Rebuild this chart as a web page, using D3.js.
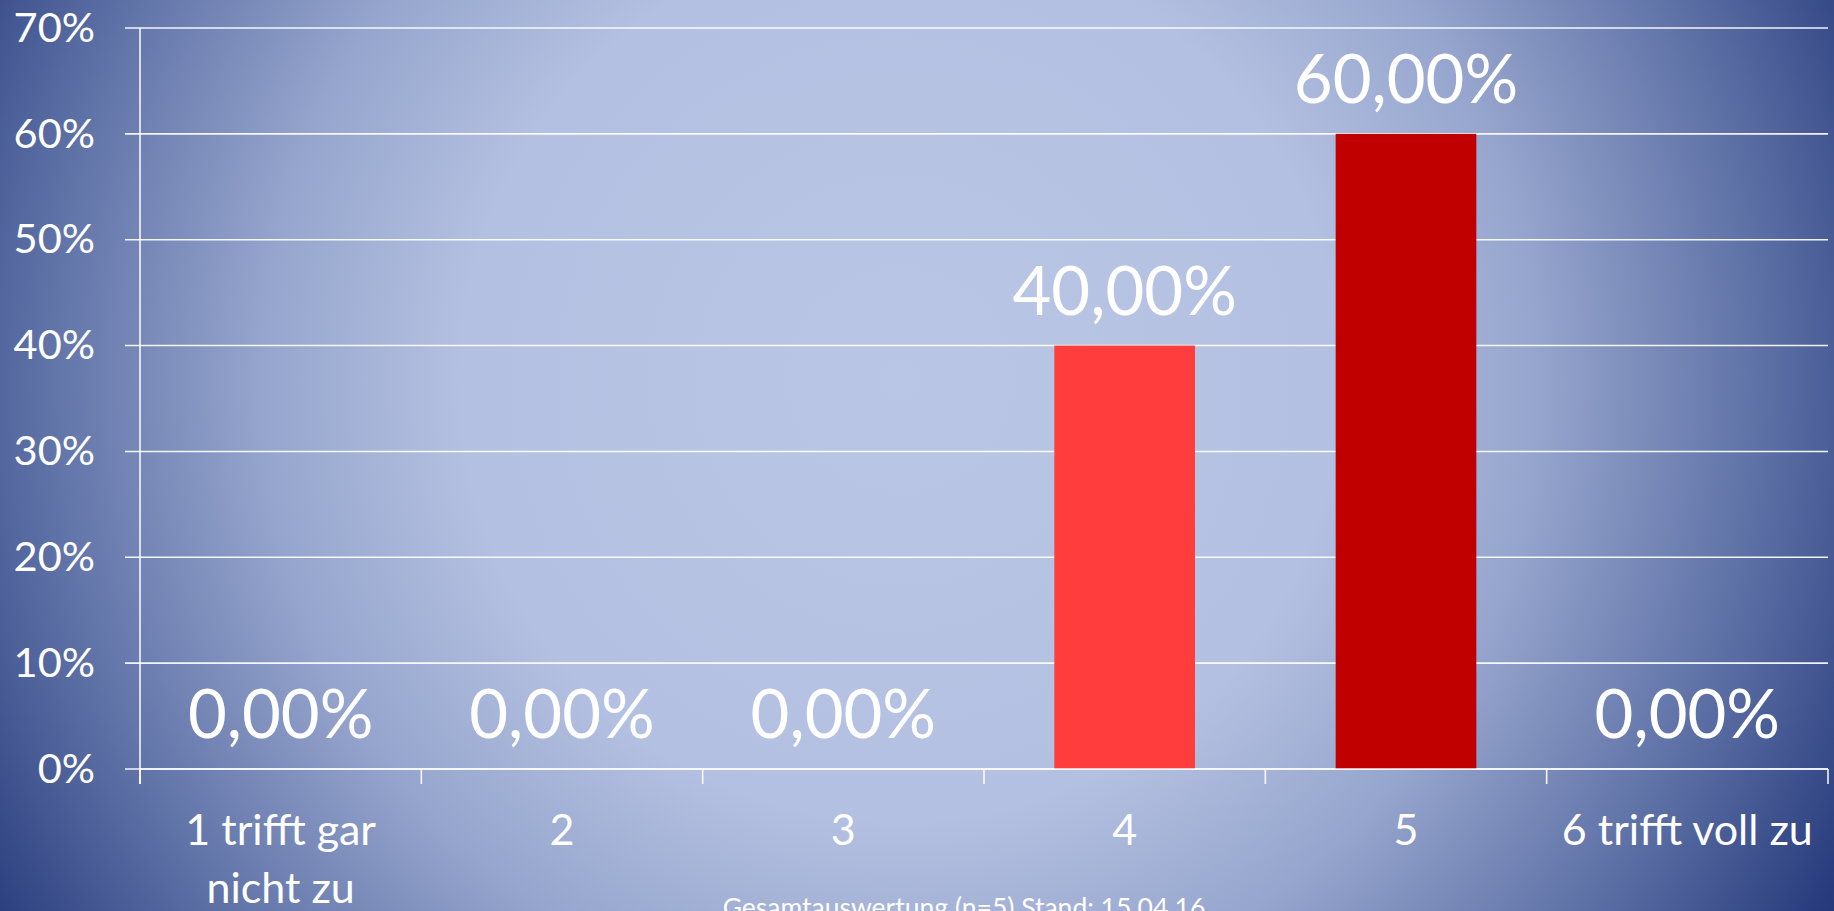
<!DOCTYPE html>
<html>
<head>
<meta charset="utf-8">
<script src="https://cdn.jsdelivr.net/npm/d3@7"></script>
<style>
  html, body { margin: 0; padding: 0; overflow: hidden; background: #1e3276; }
  svg { display: block; }
  text { font-family: Lato, "Open Sans", sans-serif; fill: #ffffff; }
</style>
</head>
<body>
<svg id="chart" width="1834" height="911"></svg>
<script>
// ---- data ----
const categories = ["1 trifft gar nicht zu", "2", "3", "4", "5", "6 trifft voll zu"];
const values = [0.0, 0.0, 0.0, 0.40, 0.60, 0.0];
const barColors = ["#ff3d3d", "#ff3d3d", "#ff3d3d", "#ff3d3d", "#c00000", "#ff3d3d"];
const yTicks = [0, 0.1, 0.2, 0.3, 0.4, 0.5, 0.6, 0.7];
const footnote = "Gesamtauswertung (n=5) Stand: 15.04.16";

// ---- layout ----
const W = 1834, H = 911;
const margin = { top: 28, right: 6, bottom: 142, left: 140 };
const innerW = W - margin.left - margin.right;
const innerH = H - margin.top - margin.bottom;

const svg = d3.select("#chart");

// background radial gradient
const defs = svg.append("defs");
const grad = defs.append("radialGradient")
  .attr("id", "bg").attr("gradientUnits", "userSpaceOnUse")
  .attr("cx", 900).attr("cy", 380).attr("r", 1100)
  .attr("fx", 900).attr("fy", 380);
[[0, "#b9c6e5"], [0.40, "#b3c0e1"], [0.58, "#96a5cd"], [0.78, "#5f72a7"], [1, "#1d3175"]]
  .forEach(([o, c]) => grad.append("stop").attr("offset", o).attr("stop-color", c));
svg.append("rect").attr("width", W).attr("height", H).attr("fill", "url(#bg)");

const g = svg.append("g").attr("transform", `translate(${margin.left},${margin.top})`);

const x = d3.scaleBand().domain(categories).range([0, innerW]).paddingInner(0.5).paddingOuter(0.25);
const y = d3.scaleLinear().domain([0, 0.7]).range([innerH, 0]);

const de = d3.formatLocale({ decimal: ",", thousands: ".", grouping: [3], currency: ["", " €"] });
const labelFmt = de.format(".2%");
const tickFmt = de.format(".0%");

const lineColor = "rgba(255,255,255,0.92)";

// gridlines
g.append("g").selectAll("line").data(yTicks).join("line")
  .attr("x1", -15).attr("x2", innerW)
  .attr("y1", d => y(d)).attr("y2", d => y(d))
  .attr("stroke", lineColor).attr("stroke-width", 1.6);

// y axis
const yAxis = g.append("g")
  .call(d3.axisLeft(y).tickValues(yTicks).tickFormat(tickFmt).tickSize(0).tickPadding(45));
yAxis.select(".domain").remove();
yAxis.selectAll("text").attr("font-size", 41.5).attr("fill", "#fff")
  .style("font-family", "Lato, 'Open Sans', sans-serif");
// y axis vertical line
g.append("line").attr("x1", 0).attr("x2", 0).attr("y1", 0).attr("y2", innerH + 15)
  .attr("stroke", lineColor).attr("stroke-width", 1.6);

// bars
g.append("g").selectAll("rect").data(values).join("rect")
  .attr("x", (d, i) => x(categories[i]))
  .attr("width", x.bandwidth())
  .attr("y", d => y(d))
  .attr("height", d => innerH - y(d))
  .attr("fill", (d, i) => barColors[i]);

// x axis line + ticks at band boundaries
const step = x.step();
const boundaries = d3.range(categories.length + 1).map(i => i * step);
g.append("line").attr("x1", 0).attr("x2", innerW).attr("y1", innerH).attr("y2", innerH)
  .attr("stroke", lineColor).attr("stroke-width", 1.6);
g.append("g").selectAll("line").data(boundaries).join("line")
  .attr("x1", d => d).attr("x2", d => d)
  .attr("y1", innerH).attr("y2", innerH + 15)
  .attr("stroke", lineColor).attr("stroke-width", 1.6);

// data labels
g.append("g").selectAll("text").data(values).join("text")
  .attr("x", (d, i) => x(categories[i]) + x.bandwidth() / 2)
  .attr("y", d => y(d) - 31)
  .attr("text-anchor", "middle")
  .attr("font-size", 67)
  .text(d => labelFmt(d));

// category labels with wrapping
const wrapWidth = step * 0.95;
const catG = g.append("g");
categories.forEach((c) => {
  const cx = x(c) + x.bandwidth() / 2;
  const t = catG.append("text")
    .attr("x", cx)
    .attr("y", innerH + 76)
    .attr("text-anchor", "middle")
    .attr("font-size", 43);
  const words = c.split(" ");
  let line = [];
  let ts = t.append("tspan").attr("x", cx).attr("dy", 0);
  words.forEach(w => {
    line.push(w);
    ts.text(line.join(" "));
    if (ts.node().getComputedTextLength() > wrapWidth && line.length > 1) {
      line.pop();
      ts.text(line.join(" "));
      line = [w];
      ts = t.append("tspan").attr("x", cx).attr("dy", 58).text(w);
    }
  });
});

// footnote
svg.append("text")
  .attr("x", 964).attr("y", 917)
  .attr("text-anchor", "middle")
  .attr("font-size", 26.5)
  .text(footnote);
</script>
</body>
</html>
